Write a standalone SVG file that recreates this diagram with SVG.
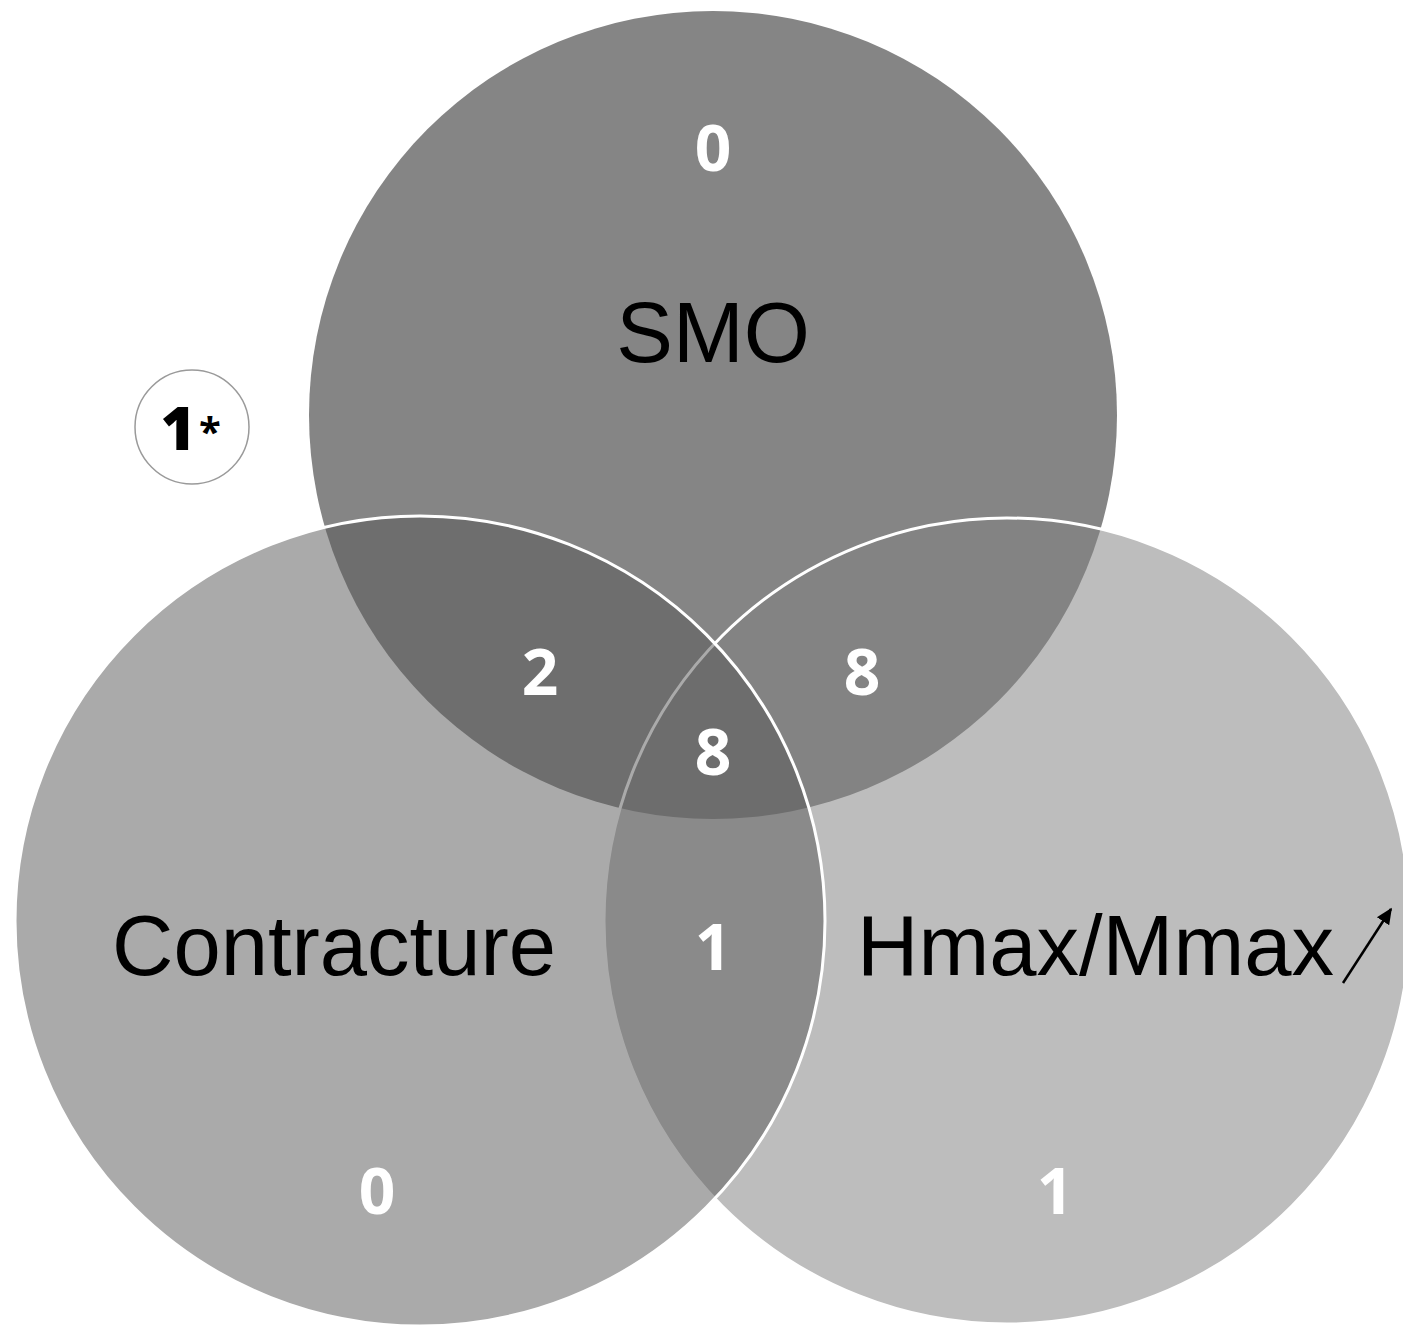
<svg xmlns="http://www.w3.org/2000/svg" width="1403" height="1327" viewBox="0 0 1403 1327">
<style>
.num{font-family:"Open Sans","Liberation Sans",sans-serif;font-weight:bold;font-size:64px;fill:#ffffff;text-anchor:middle}
.lbl{font-family:"Liberation Sans",Arial,sans-serif;font-size:85px;fill:#000000}
</style>
<defs>
<marker id="ah" viewBox="0 0 10 10" refX="9" refY="5" markerWidth="6.5" markerHeight="6.5" orient="auto"><path d="M0,0.5 L10,5 L0,9.5 z" fill="#000"/></marker>
</defs>
<rect width="1403" height="1327" fill="#ffffff"/>
<g id="smo">
<circle cx="713" cy="415" r="404" fill="#858585"/>
</g>
<g id="hmax">
<circle cx="1007" cy="921" r="403" fill="rgb(129,129,129)" fill-opacity="0.525" stroke="#ffffff" stroke-width="3"/>
</g>
<g id="contracture">
<circle cx="420" cy="921" r="405" fill="rgb(88,88,88)" fill-opacity="0.51" stroke="#ffffff" stroke-width="3"/>
</g>
<g id="labels">
<text class="lbl" x="713" y="362" text-anchor="middle">SMO</text>
<text class="lbl" x="112" y="975">Contracture</text>
<text class="lbl" x="857" y="975">Hmax/Mmax</text>
</g>
<g id="connectors">
<line x1="1343" y1="983" x2="1391" y2="909" stroke="#000" stroke-width="2.5" marker-end="url(#ah)"/>
</g>
<g id="counts">
<text class="num" x="713" y="171">0</text>
<text class="num" x="540" y="695">2</text>
<text class="num" x="862" y="695">8</text>
<text class="num" x="713" y="775">8</text>
<text class="num" x="713" y="970">1</text>
<text class="num" x="377" y="1214">0</text>
<text class="num" x="1055" y="1214">1</text>
</g>
<g id="note">
<circle cx="192" cy="427" r="57" fill="#ffffff" stroke="#9a9a9a" stroke-width="1.5"/>
<text x="178" y="450" font-family="Open Sans,Liberation Sans,sans-serif" font-weight="900" font-size="60" fill="#000" text-anchor="middle">1</text>
<text x="210" y="446" font-family="Open Sans,Liberation Sans,sans-serif" font-weight="bold" font-size="40" fill="#000" text-anchor="middle">*</text>
</g>
</svg>
